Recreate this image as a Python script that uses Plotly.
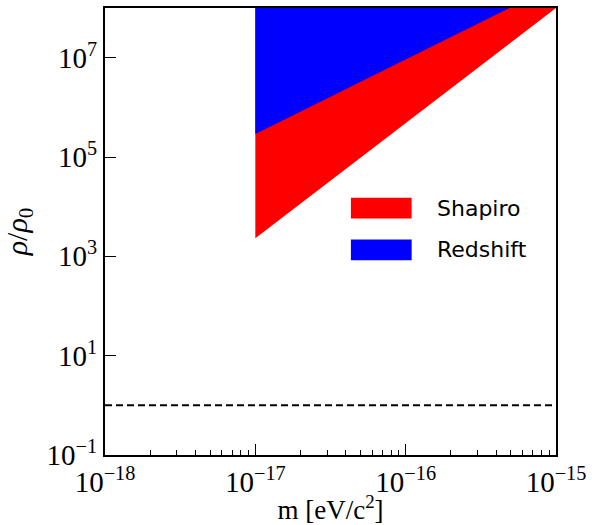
import plotly.graph_objects as go
import numpy as np

# Data
shapiro_m = [1e-17, 1e-15]
shapiro_rho = [2.3e3, 1e8]
redshift_m = [1e-17, 4.9e-16]
redshift_rho = [2.9e5, 1e8]
rho_top = 1e8
ref_m = [1e-18, 1e-15]
ref_rho = [1.0, 1.0]

x_major = [1e-18, 1e-17, 1e-16, 1e-15]
x_labels = ["10<sup>−18</sup>", "10<sup>−17</sup>", "10<sup>−16</sup>", "10<sup>−15</sup>"]
y_major = [1e-1, 1e1, 1e3, 1e5, 1e7]
y_labels = ["10<sup>−1</sup>", "10<sup>1</sup>", "10<sup>3</sup>", "10<sup>5</sup>", "10<sup>7</sup>"]
x_minor = [k * 10.0**e for e in (-18, -17, -16) for k in range(2, 10)]

SERIF = "Liberation Serif"
SANS = "DejaVu Sans"

fig = go.Figure()
fig.add_trace(go.Scatter(
    x=shapiro_m + [shapiro_m[0]], y=shapiro_rho + [rho_top],
    fill="toself", fillcolor="red", mode="lines", line=dict(width=0, color="red"),
    name="Shapiro", showlegend=False, hoverinfo="skip"))
fig.add_trace(go.Scatter(
    x=redshift_m + [redshift_m[0]], y=redshift_rho + [rho_top],
    fill="toself", fillcolor="blue", mode="lines", line=dict(width=0, color="blue"),
    name="Redshift", showlegend=False, hoverinfo="skip"))
fig.add_trace(go.Scatter(
    x=ref_m, y=ref_rho, mode="lines",
    line=dict(color="black", width=2, dash="7px,4px"),
    showlegend=False, hoverinfo="skip"))

# Manual legend
leg = [("Shapiro", "red", 0.0), ("Redshift", "blue", 1.0)]
for name, col, i in leg:
    y0 = 218 + i * 42
    fig.add_shape(type="rect", xref="paper", yref="paper",
                  x0=(352 - 105) / 453, x1=(413 - 105) / 453,
                  y0=(456 - y0) / 450, y1=(456 - (y0 - 21)) / 450,
                  fillcolor=col, line=dict(width=0))
    fig.add_annotation(text=name, xref="paper", yref="paper",
                       x=(436 - 105) / 453, y=(456 - (y0 - 10.5)) / 450,
                       xanchor="left", yanchor="middle", showarrow=False,
                       font=dict(family=SANS, size=22, color="black"))

fig.update_layout(
    width=592, height=525,
    margin=dict(l=105, r=34, t=6, b=69),
    paper_bgcolor="white", plot_bgcolor="white",
    showlegend=False,
)
fig.update_xaxes(
    type="log", range=[-18, -15],
    tickmode="array", tickvals=x_major, ticktext=x_labels,
    ticks="inside", ticklen=11, tickwidth=1.2, tickcolor="black",
    minor=dict(tickmode="array", tickvals=x_minor, ticks="inside", ticklen=5, tickwidth=1, tickcolor="black"),
    showline=True, linecolor="black", linewidth=2, mirror=True,
    showgrid=False, zeroline=False,
    tickfont=dict(family=SERIF, size=29, color="black"),
    title=dict(text="m [eV/c<sup>2</sup>]", font=dict(family=SERIF, size=27, color="black"), standoff=2),
)
fig.update_yaxes(
    type="log", range=[-1, 8],
    tickmode="array", tickvals=y_major, ticktext=y_labels,
    ticks="inside", ticklen=11, tickwidth=1.2, tickcolor="black",
    showline=True, linecolor="black", linewidth=2, mirror=True,
    showgrid=False, zeroline=False,
    tickfont=dict(family=SERIF, size=29, color="black"),
    title=dict(text="<i>ρ</i>/<i>ρ</i><sub>0</sub>", font=dict(family=SERIF, size=30, color="black"), standoff=10),
)

fig.write_html("out.html")
